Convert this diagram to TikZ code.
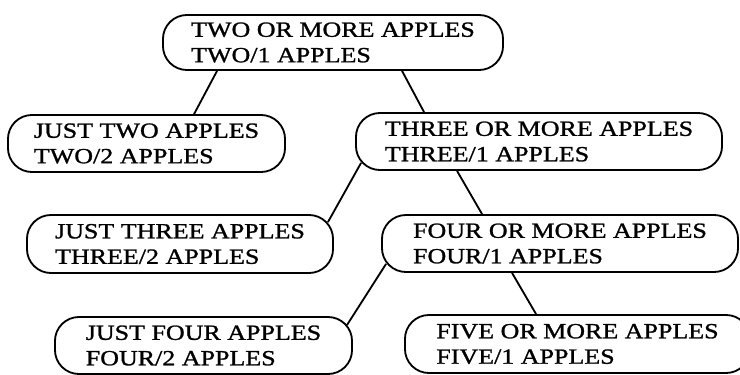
\documentclass[tikz,border=0pt]{standalone}
\usepackage{fontspec}
\newfontfamily\applefont[FakeStretch=1.2,FakeBold=1.2]{Liberation Serif}
\usetikzlibrary{calc}

\begin{document}
\begin{tikzpicture}[x=0.025cm,y=-0.025cm,
    applebox/.style={draw,line width=1.3pt,rounded corners=0.6cm,align=left,
      inner sep=0pt,font=\applefont\fontsize{15.4}{18.1}\selectfont},
    link/.style={line width=1.3pt}]
  \useasboundingbox (0,0) rectangle (740,374);
  % the boxes
  \node[applebox,minimum width=8.5cm,minimum height=1.375cm]
        (top) at (333,42.5) {TWO OR MORE APPLES\\TWO/1 APPLES};
  \node[applebox,minimum width=6.925cm,minimum height=1.425cm]
        (justtwo) at (146.5,143.5) {JUST TWO APPLES\\TWO/2 APPLES};
  \node[applebox,minimum width=9.15cm,minimum height=1.425cm]
        (three) at (539,141.5) {THREE OR MORE APPLES\\THREE/1 APPLES};
  \node[applebox,minimum width=7.65cm,minimum height=1.45cm]
        (justthree) at (180,244) {JUST THREE APPLES\\THREE/2 APPLES};
  \node[applebox,minimum width=8.9cm,minimum height=1.425cm]
        (four) at (560,243.5) {FOUR OR MORE APPLES\\FOUR/1 APPLES};
  \node[applebox,minimum width=7.425cm,minimum height=1.425cm]
        (justfour) at (203.5,345.5) {JUST FOUR APPLES\\FOUR/2 APPLES};
  \node[applebox,minimum width=8.625cm,minimum height=1.45cm]
        (five) at (577.5,344) {FIVE OR MORE APPLES\\FIVE/1 APPLES};
  % the links
  \draw[link] ($(top.south west)+(55,0)$) -- ($(justtwo.north west)+(187,0)$);
  \draw[link] ($(top.south west)+(240,0)$) -- ($(three.north west)+(69,0)$);
  \draw[link] ($(three.south west)+(6,-8)$) -- ($(justthree.north east)+(-6,8)$);
  \draw[link] ($(three.south west)+(102,0)$) -- ($(four.north west)+(101,0)$);
  \draw[link] ($(four.south west)+(5,-9)$) -- ($(justfour.north east)+(-6,9)$);
  \draw[link] ($(four.south west)+(131,0)$) -- ($(five.north west)+(132,0)$);
\end{tikzpicture}
\end{document}
